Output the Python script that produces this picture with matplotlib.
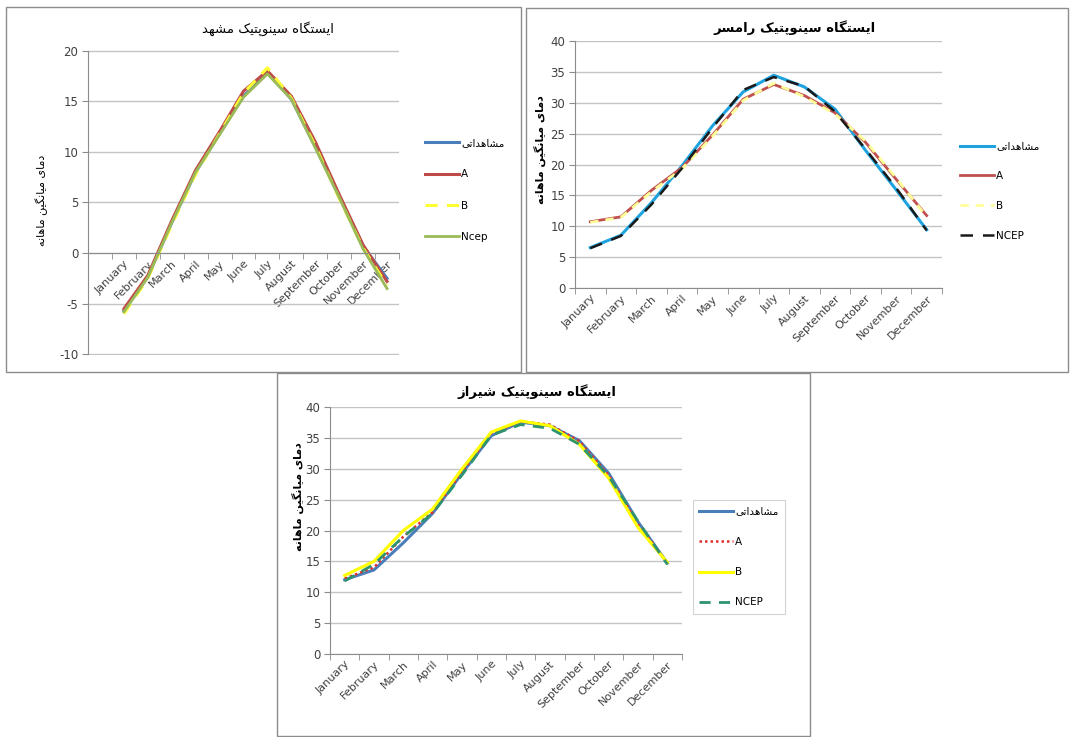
import numpy as np
import matplotlib.pyplot as plt
from matplotlib.patches import Rectangle

W, H = 1070, 737

months = ['January', 'February', 'March', 'April', 'May', 'June', 'July',
          'August', 'September', 'October', 'November', 'December']

# ایستگاه مشهد
mashhad_obs = [-5.7, -2.3, 3.0, 8.0, 11.8, 15.5, 17.8, 15.2, 10.5, 5.6, 0.7, -2.5]
mashhad_a = [-5.5, -2.2, 3.2, 8.2, 12.0, 16.0, 18.0, 15.5, 11.0, 5.8, 0.8, -2.8]
mashhad_b = [-6.0, -2.5, 2.8, 7.8, 11.8, 15.8, 18.3, 15.3, 10.6, 5.4, 0.5, -3.2]
mashhad_ncep = [-5.8, -2.4, 3.0, 8.0, 11.7, 15.4, 17.7, 15.2, 10.4, 5.5, 0.4, -3.5]

# ایستگاه رامسر
ramsar_obs = [6.5, 8.5, 13.8, 19.8, 26.3, 31.8, 34.5, 32.6, 29.0, 22.3, 15.9, 9.4]
ramsar_a = [10.7, 11.5, 15.8, 19.5, 24.8, 30.6, 33.0, 31.2, 28.4, 23.6, 17.6, 11.7]
ramsar_b = [10.6, 11.4, 15.6, 19.3, 24.6, 30.4, 33.2, 31.0, 28.2, 23.8, 17.8, 11.5]
ramsar_ncep = [6.4, 8.4, 13.5, 19.4, 26.0, 32.1, 34.2, 32.7, 28.6, 22.5, 16.2, 9.3]

# ایستگاه شیراز
shiraz_obs = [12.0, 13.6, 18.0, 22.8, 29.3, 35.4, 37.6, 37.0, 34.6, 29.3, 21.4, 14.7]
shiraz_a = [12.2, 14.0, 19.0, 23.0, 29.5, 35.8, 37.7, 37.2, 34.5, 29.0, 21.0, 14.8]
shiraz_b = [12.7, 15.0, 20.0, 23.5, 30.0, 36.0, 37.8, 37.0, 34.0, 28.5, 20.5, 14.8]
shiraz_ncep = [11.8, 14.5, 19.0, 22.8, 29.0, 35.5, 37.2, 36.6, 34.0, 28.8, 21.5, 14.5]

label_obs = 'مشاهداتی'
ylabel_fa = 'دمای میانگین ماهانه'
titles = ['ایستگاه سینوپتیک مشهد', 'ایستگاه سینوپتیک رامسر', 'ایستگاه سینوپتیک شیراز']

# شکل‌های اتصال حروف فارسی: (تنها، پایانی، آغازی، میانی)
FORMS = {
    'ا': ('\uFE8D', '\uFE8E', None, None),
    'د': ('\uFEA9', '\uFEAA', None, None),
    'ر': ('\uFEAD', '\uFEAE', None, None),
    'ز': ('\uFEAF', '\uFEB0', None, None),
    'و': ('\uFEED', '\uFEEE', None, None),
    'ت': ('\uFE95', '\uFE96', '\uFE97', '\uFE98'),
    'پ': ('\uFB56', '\uFB57', '\uFB58', '\uFB59'),
    'س': ('\uFEB1', '\uFEB2', '\uFEB3', '\uFEB4'),
    'ش': ('\uFEB5', '\uFEB6', '\uFEB7', '\uFEB8'),
    'گ': ('\uFB92', '\uFB93', '\uFB94', '\uFB95'),
    'ک': ('\uFB8E', '\uFB8F', '\uFB90', '\uFB91'),
    'ه': ('\uFEE9', '\uFEEA', '\uFEEB', '\uFEEC'),
    'ی': ('\uFBFC', '\uFBFD', '\uFBFE', '\uFBFF'),
    'ن': ('\uFEE5', '\uFEE6', '\uFEE7', '\uFEE8'),
    'م': ('\uFEE1', '\uFEE2', '\uFEE3', '\uFEE4'),
}


def fa(text):
    out = []
    for i, ch in enumerate(text):
        if ch not in FORMS:
            out.append(ch)
            continue
        iso, fin, ini, med = FORMS[ch]
        prev = text[i - 1] if i > 0 else ''
        nxt = text[i + 1] if i + 1 < len(text) else ''
        j_prev = prev in FORMS and FORMS[prev][2] is not None
        j_next = ini is not None and nxt in FORMS
        if j_prev and j_next:
            out.append(med)
        elif j_prev:
            out.append(fin)
        elif j_next:
            out.append(ini)
        else:
            out.append(iso)
    return ''.join(reversed(out))


def rect(x0, y0, x1, y1):
    return [x0 / W, 1 - y1 / H, (x1 - x0) / W, (y1 - y0) / H]


def px(x, y):
    return x / W, 1 - y / H


plt.rcParams['font.family'] = ['DejaVu Sans']
plt.rcParams['axes.unicode_minus'] = False

fig = plt.figure(figsize=(W / 100, H / 100), dpi=100)
fig.patch.set_facecolor('white')

# قاب دور هر نمودار
for x0, y0, x1, y1 in [(6, 7, 521, 372), (526, 8, 1068, 372), (277, 373, 810, 736)]:
    fig.add_artist(Rectangle((x0 / W, 1 - y1 / H), (x1 - x0) / W, (y1 - y0) / H,
                             transform=fig.transFigure, fill=False,
                             edgecolor='#8c8c8c', lw=1.0))


def setup(ax, ylim, ystep, xlim):
    x = np.arange(len(months))
    ax.set_xlim(*xlim)
    ax.set_ylim(ylim[0] - 0.06, ylim[1] + 0.06)
    ax.set_yticks(np.arange(ylim[0], ylim[1] + 0.1, ystep))
    ax.yaxis.grid(True, color='#c4c4c4', lw=1.0)
    ax.set_axisbelow(True)
    for s in ['top', 'right']:
        ax.spines[s].set_visible(False)
    ax.spines['left'].set_color('#8c8c8c')
    ax.spines['left'].set_bounds(ylim[0], ylim[1])
    ax.spines['bottom'].set_color('#8c8c8c')
    ax.spines['bottom'].set_position(('data', 0))
    ax.set_xticks(x)
    ax.set_xticklabels(months, rotation=45, ha='right', va='top',
                       rotation_mode='anchor', fontsize=8, color='#404040')
    ax.set_xticks(np.arange(-0.5, len(months) + 0.5, 1.0), minor=True)
    ax.tick_params(axis='x', which='major', length=0, pad=4)
    ax.tick_params(axis='x', which='minor', length=4, color='#8c8c8c')
    ax.tick_params(axis='y', length=4, color='#8c8c8c', labelsize=8.5,
                   labelcolor='#404040', pad=3)
    return x


def add_legend(ax, anchor, spacing, frame=False):
    leg = ax.legend(loc='center left', bbox_to_anchor=anchor,
                    bbox_transform=fig.transFigure, frameon=frame,
                    fontsize=7.5, handlelength=3.2, handletextpad=0.25,
                    labelspacing=spacing, borderpad=0.6)
    if frame:
        leg.get_frame().set_edgecolor('#c8c8c8')
        leg.get_frame().set_linewidth(0.8)
        leg.get_frame().set_boxstyle('square', pad=0)
    return leg


# نمودار مشهد
ax1 = fig.add_axes(rect(88, 50, 399, 355))
x = setup(ax1, (-10, 20), 5, (-1.5, 11.5))
ax1.plot(x, mashhad_obs, color='#4A7EBB', lw=2.2, label=fa(label_obs))
ax1.plot(x, mashhad_a, color='#BE4B48', lw=2.2, label='A')
ax1.plot(x, mashhad_b, color='#FFFF33', lw=2.2, ls=(0, (4, 3)), label='B')
ax1.plot(x, mashhad_ncep, color='#9BBB59', lw=2.0, label='Ncep')
add_legend(ax1, px(414, 190), 2.05)
fig.text(*px(268, 29), fa(titles[0]), ha='center', va='center', fontsize=9.5)
fig.text(*px(42, 200), fa(ylabel_fa), rotation=90, ha='center', va='center',
         fontsize=8)

# نمودار رامسر
ax2 = fig.add_axes(rect(575, 41, 942, 288))
x = setup(ax2, (0, 40), 5, (-0.5, 11.5))
ax2.plot(x, ramsar_obs, color='#1FA3DE', lw=2.2, label=fa(label_obs))
ax2.plot(x, ramsar_a, color='#C0504D', lw=2.0, label='A')
ax2.plot(x, ramsar_b, color='#FFFF99', lw=2.0, ls=(0, (3, 2.5)), label='B')
ax2.plot(x, ramsar_ncep, color='#1a1a1a', lw=1.8, ls=(0, (5, 4)), label='NCEP')
add_legend(ax2, px(949, 191), 1.9)
fig.text(*px(795, 28), fa(titles[1]), ha='center', va='center', fontsize=9.5,
         fontweight='bold')
fig.text(*px(540, 150), fa(ylabel_fa), rotation=90, ha='center', va='center',
         fontsize=8, fontweight='bold')

# نمودار شیراز
ax3 = fig.add_axes(rect(330, 407, 682, 654))
x = setup(ax3, (0, 40), 5, (-0.5, 11.5))
ax3.plot(x, shiraz_obs, color='#4A7EBB', lw=2.2, label=fa(label_obs))
ax3.plot(x, shiraz_a, color='#E0302C', lw=1.8, ls=(0, (1, 1.2)), label='A')
ax3.plot(x, shiraz_b, color='#FFFF00', lw=2.2, label='B')
ax3.plot(x, shiraz_ncep, color='#2E9470', lw=2.0, ls=(0, (4, 3)), label='NCEP')
add_legend(ax3, px(688, 557), 1.95, frame=True)
fig.text(*px(537, 392), fa(titles[2]), ha='center', va='center', fontsize=9.5,
         fontweight='bold')
fig.text(*px(298, 497), fa(ylabel_fa), rotation=90, ha='center', va='center',
         fontsize=8, fontweight='bold')

fig.savefig('out.png', dpi=100, facecolor='white')
